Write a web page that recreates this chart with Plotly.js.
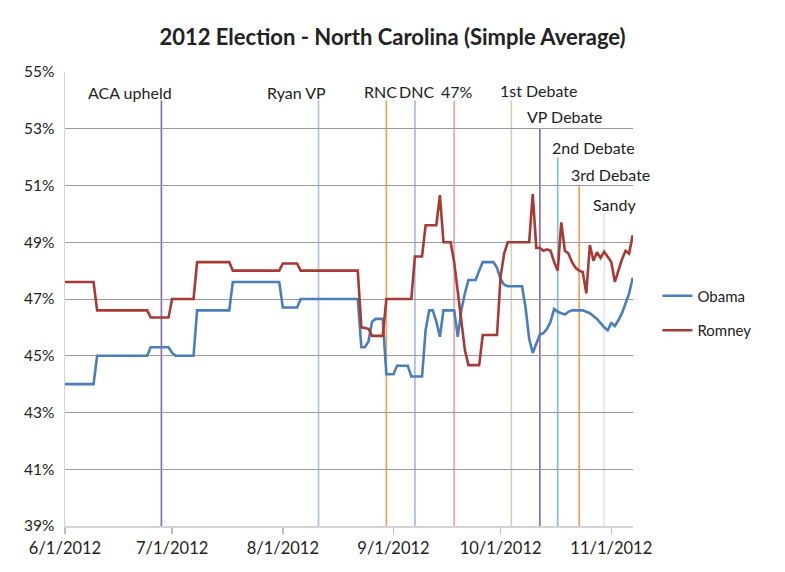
<!DOCTYPE html>
<html>
<head>
<meta charset="utf-8">
<script src="https://cdn.plot.ly/plotly-3.0.1.min.js"></script>
<style>html,body{margin:0;padding:0;background:#fff;}#chart{width:785px;height:572px;}</style>
</head>
<body>
<div id="chart"></div>
<script>
// ---- Data ----
var startDate = '2012-06-01'; // one value per day, 6/1/2012 .. 11/7/2012
var obama = [
44.0,44.0,44.0,44.0,44.0,44.0,44.0,44.0,44.0,
45.0,45.0,45.0,45.0,45.0,45.0,45.0,45.0,45.0,45.0,45.0,45.0,45.0,45.0,45.0,
45.3,45.3,45.3,45.3,45.3,45.3,
45.1,
45.0,45.0,45.0,45.0,45.0,45.0,
46.6,46.6,46.6,46.6,46.6,46.6,46.6,46.6,46.6,46.6,
47.6,47.6,47.6,47.6,47.6,47.6,47.6,47.6,47.6,47.6,47.6,47.6,47.6,47.6,
46.7,46.7,46.7,46.7,46.7,
47.0,47.0,47.0,47.0,47.0,47.0,47.0,47.0,47.0,47.0,47.0,47.0,47.0,47.0,47.0,47.0,47.0,
45.3,45.3,45.5,46.2,46.3,46.3,46.3,
44.35,44.35,44.35,
44.65,44.65,44.65,44.65,
44.27,44.27,44.27,44.27,
45.9,46.6,46.6,46.2,45.67,46.6,46.6,46.6,46.6,45.67,46.6,47.2,
47.67,47.67,47.67,
48.0,
48.3,48.3,48.3,48.3,
48.1,47.7,47.5,
47.45,47.45,47.45,47.45,47.45,
46.7,45.6,45.1,45.4,45.75,45.8,45.95,46.2,46.65,46.55,46.5,46.45,46.55,46.6,46.6,46.6,46.6,46.55,46.5,46.4,46.3,46.15,46.0,45.9,46.15,46.05,46.25,46.5,46.85,47.2,47.75
];
var romney = [
47.6,47.6,47.6,47.6,47.6,47.6,47.6,47.6,47.6,
46.6,46.6,46.6,46.6,46.6,46.6,46.6,46.6,46.6,46.6,46.6,46.6,46.6,46.6,46.6,
46.35,46.35,46.35,46.35,46.35,46.35,
47.0,47.0,47.0,47.0,47.0,47.0,47.0,
48.3,48.3,48.3,48.3,48.3,48.3,48.3,48.3,48.3,48.3,
48.0,48.0,48.0,48.0,48.0,48.0,48.0,48.0,48.0,48.0,48.0,48.0,48.0,48.0,
48.25,48.25,48.25,48.25,48.25,
48.0,48.0,48.0,48.0,48.0,48.0,48.0,48.0,48.0,48.0,48.0,48.0,48.0,48.0,48.0,48.0,48.0,
46.0,45.97,45.95,45.7,45.7,45.7,45.7,
47.0,47.0,47.0,47.0,47.0,47.0,47.0,47.0,
48.5,48.5,48.5,
49.6,49.6,49.6,49.6,
50.66,
49.0,49.0,49.0,
48.3,47.3,46.2,45.2,
44.67,44.67,44.67,44.67,
45.73,45.73,45.73,45.73,45.73,
47.8,48.6,
49.0,49.0,49.0,49.0,49.0,49.0,49.0,
50.7,
48.8,48.8,48.7,48.75,48.7,48.3,48.0,49.7,48.7,48.6,48.3,48.1,48.0,47.95,47.2,48.9,48.35,48.65,48.45,48.67,48.5,48.3,47.6,48.0,48.4,48.7,48.6,49.25
];
var seriesNames = ['Obama', 'Romney'];

var eventNames  = ['ACA upheld','Ryan VP','RNC','DNC','47%','1st Debate','VP Debate','2nd Debate','3rd Debate','Sandy'];
var eventDates  = ['2012-06-28','2012-08-11','2012-08-30','2012-09-07','2012-09-18','2012-10-04','2012-10-12','2012-10-17','2012-10-23','2012-10-30'];
var eventTops   = [54, 54, 54, 54, 54, 54, 53, 52, 51, 50];
var labelDates  = ['2012-06-19 05:00','2012-08-04 22:00','2012-08-28 08:00','2012-09-07 12:00','2012-09-18 17:00','2012-10-11 19:00','2012-10-19 03:00','2012-10-27 00:00','2012-10-31 18:00','2012-11-02 00:00'];
var labelLevels = [54.27, 54.27, 54.3, 54.3, 54.3, 54.35, 53.42, 52.35, 51.4, 50.33];

var xTickVals  = ['2012-06-01','2012-07-01','2012-08-01','2012-09-01','2012-10-01','2012-11-01'];
var xTickText  = ['6/1/2012','7/1/2012','8/1/2012','9/1/2012','10/1/2012','11/1/2012'];
var yTickVals  = [39, 41, 43, 45, 47, 49, 51, 53, 55];
var yTickText  = ['39%','41%','43%','45%','47%','49%','51%','53%','55%'];

// ---- Styles ----
var seriesColors = ['#4A7EBB', '#A83A36'];
var eventColors = ['#8A6DB5','#A9C4DE','#F3A25E','#A7B9EA','#EBA3A3','#CCD9AE','#8A6DB5','#7FC3E3','#F5A055','#DDE7F3'];
var FONT = 'Lato, "Liberation Sans", sans-serif';

// build day-by-day dates
function dayDates(n) {
  var out = [];
  var d0 = new Date(startDate + 'T00:00:00Z');
  for (var i = 0; i < n; i++) {
    var d = new Date(d0.getTime() + i * 86400000);
    out.push(d.toISOString().slice(0, 10));
  }
  return out;
}
var dates = dayDates(obama.length);

var traces = [obama, romney].map(function (vals, i) {
  return {
    type: 'scatter', mode: 'lines', x: dates, y: vals, name: seriesNames[i],
    legendgroup: seriesNames[i],
    line: {color: seriesColors[i], width: 2.6}
  };
});

var shapes = eventDates.map(function (d, i) {
  return {type: 'line', xref: 'x', yref: 'y', x0: d, x1: d, y0: 39, y1: eventTops[i],
          line: {color: eventColors[i], width: 1.7}, layer: 'below'};
});
var annotations = eventNames.map(function (t, i) {
  return {xref: 'x', yref: 'y', x: labelDates[i], y: labelLevels[i], text: t, showarrow: false,
          xanchor: 'center', yanchor: 'middle', font: {family: FONT, size: 16, color: '#222'}};
});

var layout = {
  width: 785, height: 572,
  margin: {l: 65, r: 152, t: 72, b: 46, pad: 0},
  paper_bgcolor: '#fff', plot_bgcolor: '#fff',
  font: {family: FONT, color: '#222'},
  title: {text: '<b>2012 Election - North Carolina (Simple Average)</b>', x: 0.5, xref: 'container', xanchor: 'center',
          y: 0.934, yref: 'container', yanchor: 'middle', font: {family: FONT, size: 22, color: '#222'}},
  xaxis: {type: 'date', range: ['2012-06-01', '2012-11-07 02:00'], tickvals: xTickVals, ticktext: xTickText,
          showgrid: false, zeroline: false, showline: true, linecolor: '#d4d4d4', linewidth: 2,
          ticks: 'outside', ticklen: 6, tickcolor: '#bbb', tickwidth: 1.5,
          tickfont: {family: FONT, size: 16.5, color: '#222'}},
  yaxis: {range: [39, 55], tickvals: yTickVals, ticktext: yTickText, showgrid: true, gridcolor: '#9a9a9a', gridwidth: 1,
          zeroline: false, showline: true, linecolor: '#d4d4d4', linewidth: 1.5, ticks: '',
          ticklabelstandoff: 6, tickfont: {family: FONT, size: 15.5, color: '#222'}},
  showlegend: true,
  legend: {x: 1.043, y: 0.543, xanchor: 'left', yanchor: 'top', tracegroupgap: 12,
           font: {family: FONT, size: 15, color: '#222'}, bgcolor: 'rgba(0,0,0,0)'},
  shapes: shapes,
  annotations: annotations
};

Plotly.newPlot('chart', traces, layout, {displayModeBar: false, staticPlot: true});
</script>
</body>
</html>
